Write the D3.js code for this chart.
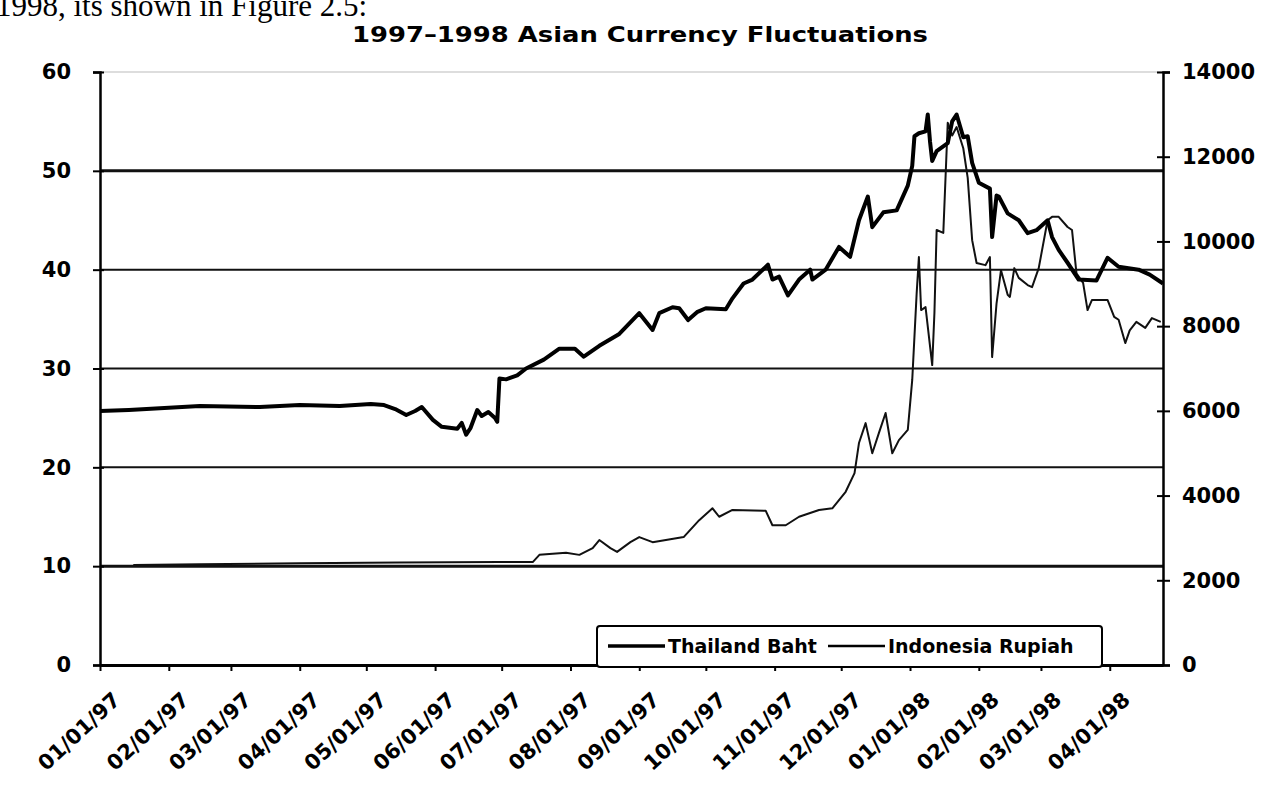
<!DOCTYPE html>
<html>
<head>
<meta charset="utf-8">
<script src="https://cdn.jsdelivr.net/npm/d3@7"></script>
<style>
  body { margin: 0; background: #fff; }
  svg { display: block; }
</style>
</head>
<body>
<svg id="chart" width="1263" height="788"></svg>
<script>
// Thai baht per US$ (left axis)
const bahtDates = [
  "1997-01-01","1997-01-14","1997-01-30","1997-02-15","1997-03-14","1997-04-01","1997-04-19",
  "1997-05-03","1997-05-09","1997-05-14","1997-05-19","1997-05-23","1997-05-26","1997-05-31",
  "1997-06-04","1997-06-11","1997-06-13","1997-06-15","1997-06-17","1997-06-20","1997-06-22",
  "1997-06-25","1997-06-28","1997-06-29","1997-06-30","1997-07-03","1997-07-08","1997-07-12",
  "1997-07-20","1997-07-27","1997-08-03","1997-08-07","1997-08-14","1997-08-23","1997-09-01",
  "1997-09-07","1997-09-10","1997-09-16","1997-09-19","1997-09-23","1997-09-27","1997-10-01",
  "1997-10-10","1997-10-13","1997-10-18","1997-10-22","1997-10-29","1997-10-31","1997-11-03",
  "1997-11-07","1997-11-12","1997-11-17","1997-11-18","1997-11-24","1997-11-30","1997-12-05",
  "1997-12-09","1997-12-13","1997-12-15","1997-12-20","1997-12-26","1997-12-31","1998-01-02",
  "1998-01-03","1998-01-05","1998-01-08","1998-01-09","1998-01-10","1998-01-11","1998-01-13",
  "1998-01-18","1998-01-20","1998-01-22","1998-01-25","1998-01-27","1998-01-29","1998-02-01",
  "1998-02-06","1998-02-07","1998-02-09","1998-02-10","1998-02-14","1998-02-19","1998-02-23",
  "1998-02-27","1998-03-04","1998-03-06","1998-03-09","1998-03-13","1998-03-18","1998-03-26",
  "1998-03-31","1998-04-05","1998-04-14","1998-04-19","1998-04-25"
];
const bahtValues = [
  25.7, 25.8, 26.0, 26.2, 26.1, 26.3, 26.2,
  26.4, 26.3, 25.9, 25.3, 25.7, 26.1, 24.8,
  24.1, 23.9, 24.5, 23.3, 24.0, 25.8, 25.2,
  25.6, 25.0, 24.6, 29.0, 28.9, 29.3, 30.0,
  30.9, 32.0, 32.0, 31.2, 32.3, 33.5, 35.6,
  33.9, 35.6, 36.2, 36.1, 34.9, 35.7, 36.1,
  36.0, 37.1, 38.6, 39.0, 40.5, 39.0, 39.3,
  37.4, 39.0, 40.0, 39.0, 40.0, 42.3, 41.3,
  45.0, 47.4, 44.3, 45.8, 46.0, 48.5, 50.5,
  53.5, 53.8, 54.0, 55.7, 53.0, 51.0, 52.0,
  52.8, 55.0, 55.7, 53.4, 53.5, 50.8, 48.8,
  48.2, 43.3, 47.5, 47.4, 45.7, 45.0, 43.7,
  44.0, 45.0, 43.3, 42.0, 40.7, 39.0, 38.9,
  41.2, 40.3, 40.0, 39.5, 38.6
];

// Indonesian rupiah per US$ (right axis)
const rupiahDates = [
  "1997-01-16","1997-02-15","1997-04-01","1997-05-16","1997-06-30","1997-07-15","1997-07-18",
  "1997-07-30","1997-08-05","1997-08-11","1997-08-14","1997-08-19","1997-08-22","1997-08-28",
  "1997-09-01","1997-09-07","1997-09-21","1997-09-28","1997-10-04","1997-10-07","1997-10-13",
  "1997-10-28","1997-10-31","1997-11-06","1997-11-12","1997-11-21","1997-11-27","1997-12-03",
  "1997-12-07","1997-12-09","1997-12-12","1997-12-15","1997-12-18","1997-12-21","1997-12-24",
  "1997-12-27","1997-12-31","1998-01-02","1998-01-04","1998-01-05","1998-01-06","1998-01-08",
  "1998-01-11","1998-01-12","1998-01-13","1998-01-16","1998-01-18","1998-01-20","1998-01-22",
  "1998-01-25","1998-01-27","1998-01-29","1998-01-31","1998-02-04","1998-02-06","1998-02-07",
  "1998-02-09","1998-02-11","1998-02-14","1998-02-15","1998-02-17","1998-02-19","1998-02-23",
  "1998-02-25","1998-02-28","1998-03-04","1998-03-06","1998-03-09","1998-03-13","1998-03-15",
  "1998-03-17","1998-03-20","1998-03-22","1998-03-24","1998-03-31","1998-04-03","1998-04-05",
  "1998-04-08","1998-04-10","1998-04-13","1998-04-17","1998-04-20","1998-04-24"
];
const rupiahValues = [
  2360, 2380, 2400, 2420, 2430, 2430, 2600,
  2650, 2600, 2760, 2950, 2760, 2670, 2900,
  3020, 2900, 3020, 3420, 3700, 3500, 3660,
  3640, 3300, 3300, 3500, 3660, 3700, 4090,
  4530, 5240, 5710, 5000, 5480, 5950, 5000,
  5310, 5550, 6730, 8780, 9630, 8380, 8450,
  7080, 8310, 10270, 10200, 12800, 12500, 12700,
  12200, 11500, 10030, 9490, 9440, 9630, 7270,
  8540, 9320, 8740, 8690, 9370, 9140, 8970,
  8920, 9370, 10500, 10580, 10580, 10340, 10270,
  9250, 9020, 8380, 8620, 8620, 8220, 8150,
  7600, 7900, 8100, 7960, 8190, 8100
];

const seriesNames = ["Thailand Baht", "Indonesia Rupiah"];
const leftTicks = [0, 10, 20, 30, 40, 50, 60];
const rightTicks = [0, 2000, 4000, 6000, 8000, 10000, 12000, 14000];
const dateRange = ["1997-01-01", "1998-04-25"];

const parse = d3.utcParse("%Y-%m-%d");
const svg = d3.select("#chart");
const plotLeft = 100, plotRight = 1163, plotTop = 72, plotBottom = 665;
const labelFont = "DejaVu Sans, sans-serif";

const x = d3.scaleUtc().domain(dateRange.map(parse)).range([plotLeft, plotRight]);
const yLeft = d3.scaleLinear().domain([0, 60]).range([plotBottom, plotTop]);
const yRight = d3.scaleLinear().domain([0, 14000]).range([plotBottom, plotTop]);

// bit of the page text above the figure (clipped at the top, as in the scan)
svg.append("text")
  .attr("x", -4)
  .attr("y", 16)
  .attr("font-family", "Liberation Serif, serif")
  .attr("font-size", "31px")
  .text("1998, its shown in Figure 2.5:");

// title
svg.append("text")
  .attr("x", 352)
  .attr("y", 42)
  .attr("font-family", labelFont)
  .attr("font-weight", "bold")
  .attr("font-size", "22px")
  .attr("textLength", 576)
  .attr("lengthAdjust", "spacingAndGlyphs")
  .text("1997\u20131998 Asian Currency Fluctuations");

// horizontal gridlines on the left scale
svg.append("g")
  .selectAll("line")
  .data(leftTicks.slice(1))
  .join("line")
  .attr("x1", plotLeft)
  .attr("x2", plotRight)
  .attr("y1", (d) => yLeft(d))
  .attr("y2", (d) => yLeft(d))
  .attr("stroke", (d) => (d === 60 ? "#bbb" : "#111"))
  .attr("stroke-width", (d) => (d === 60 ? 1 : d === 50 || d === 10 ? 3 : 2));

// series
const bahtLine = d3.line().x((d, i) => x(parse(bahtDates[i]))).y((d) => yLeft(d));
const rupiahLine = d3.line().x((d, i) => x(parse(rupiahDates[i]))).y((d) => yRight(d));

svg.append("path")
  .attr("d", rupiahLine(rupiahValues))
  .attr("fill", "none")
  .attr("stroke", "#111")
  .attr("stroke-width", 2)
  .attr("stroke-linejoin", "round");

svg.append("path")
  .attr("d", bahtLine(bahtValues))
  .attr("fill", "none")
  .attr("stroke", "#000")
  .attr("stroke-width", 4)
  .attr("stroke-linejoin", "round");

// left axis
const gLeft = svg.append("g")
  .attr("transform", "translate(" + plotLeft + ",0)")
  .call(d3.axisLeft(yLeft).tickValues(leftTicks).tickSize(7).tickPadding(22));
gLeft.selectAll(".tick line").attr("x1", 4).attr("stroke-width", 2);

// right axis
const gRight = svg.append("g")
  .attr("transform", "translate(" + plotRight + ",0)")
  .call(d3.axisRight(yRight).tickValues(rightTicks).tickFormat(d3.format("d")).tickSize(7).tickPadding(12));
gRight.selectAll(".tick line").attr("x1", -6).attr("stroke-width", 2);

[gLeft, gRight].forEach((g) => {
  g.select(".domain").attr("stroke-width", 2.5);
  g.selectAll(".tick text")
    .attr("font-family", labelFont)
    .attr("font-weight", "bold")
    .attr("font-size", "21px")
    .attr("fill", "#000");
});

// bottom axis with slanted month labels
const gBottom = svg.append("g")
  .attr("transform", "translate(0," + plotBottom + ")")
  .call(d3.axisBottom(x).ticks(d3.utcMonth.every(1)).tickFormat(d3.utcFormat("%m/%d/%y")).tickSize(6).tickSizeOuter(0));
gBottom.select(".domain").attr("stroke-width", 3);
gBottom.selectAll(".tick line").attr("stroke-width", 2);
gBottom.selectAll(".tick text")
  .attr("font-family", labelFont)
  .attr("font-weight", "bold")
  .attr("font-size", "21px")
  .attr("fill", "#000")
  .attr("text-anchor", "end")
  .attr("dy", 0)
  .attr("transform", "translate(15,30) rotate(-43)");

// legend
const legend = svg.append("g").attr("transform", "translate(597,626)");
legend.append("rect")
  .attr("width", 505)
  .attr("height", 41)
  .attr("rx", 3)
  .attr("fill", "#fff")
  .attr("stroke", "#000")
  .attr("stroke-width", 2);

const legendX = [11, 231];
seriesNames.forEach((name, i) => {
  legend.append("line")
    .attr("x1", legendX[i])
    .attr("x2", legendX[i] + 57)
    .attr("y1", 20)
    .attr("y2", 20)
    .attr("stroke", "#000")
    .attr("stroke-width", i === 0 ? 3.5 : 2.5);
  legend.append("text")
    .attr("x", legendX[i] + 60)
    .attr("y", 27)
    .attr("font-family", labelFont)
    .attr("font-weight", "bold")
    .attr("font-size", "19px")
    .text(name);
});
</script>
</body>
</html>
